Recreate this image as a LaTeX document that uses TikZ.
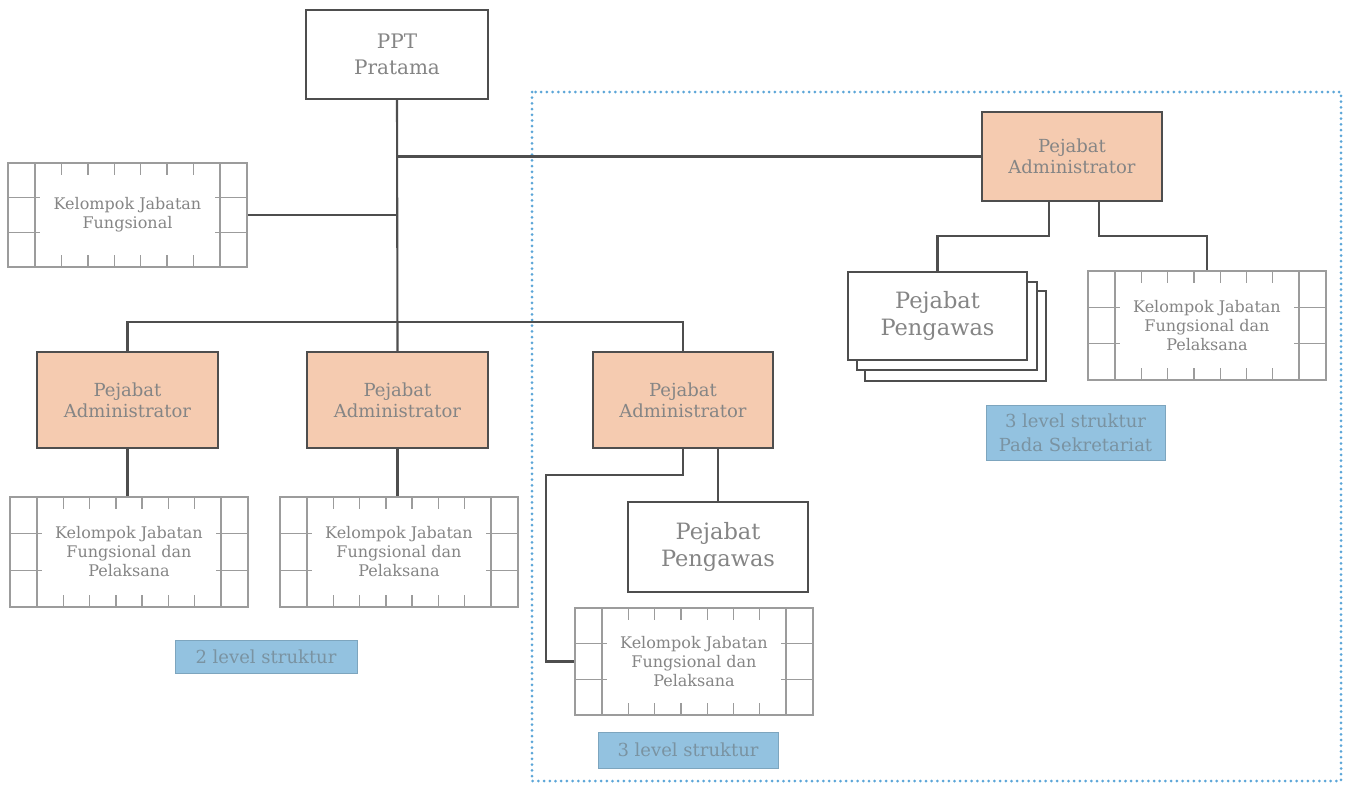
\documentclass[tikz,border=0pt]{standalone}
\usepackage{fontspec}
\setmainfont{DejaVu Serif}
\usetikzlibrary{calc}
\definecolor{peach}{HTML}{F5CBB0}
\definecolor{lblue}{HTML}{93C2E0}
\definecolor{dotblue}{HTML}{5CA6D8}
\definecolor{txt}{HTML}{858585}
\definecolor{lbltxt}{HTML}{7A93A2}
\definecolor{boxline}{HTML}{4E4E4E}
\definecolor{kline}{HTML}{9C9C9C}
\tikzset{
  conn/.style={draw=boxline, line width=2.1pt},
  basebox/.style={draw=boxline, line width=1.8pt, text=txt, align=center, inner sep=0pt},
  pptbox/.style={basebox, fill=white, font=\fontsize{20}{26}\selectfont},
  admbox/.style={basebox, fill=peach, font=\fontsize{18}{21}\selectfont},
  pengbox/.style={basebox, fill=white, font=\fontsize{22.5}{27}\selectfont},
  kjfbox/.style={draw=kline, line width=1.3pt, fill=white, text=txt, align=center, inner sep=0pt, font=\fontsize{16}{19}\selectfont},
  kjfline/.style={draw=kline, line width=1.3pt},
  lblbox/.style={fill=lblue, draw=lblue!85!black, line width=0.4pt, text=lbltxt, align=center, inner sep=0pt, font=\fontsize{18}{24}\selectfont},
  dotframe/.style={draw=dotblue, line width=3pt, line cap=round, dash pattern=on 0pt off 5.7pt},
}
% name, x1, y1, x2, y2, text
\newcommand\kjfnode[6]{%
  \node[kjfbox, minimum width={#4-#2}, minimum height={#5-#3}] (#1) at ({(#2+#4)/2},{(#3+#5)/2}) {#6};
  \draw[kjfline] (#2+27,#3) -- (#2+27,#5) (#4-27,#3) -- (#4-27,#5);
  \foreach \f in {1,2}{%
    \draw[kjfline] (#2,{#3+\f*(#5-#3)/3}) -- ++(32,0);
    \draw[kjfline] (#4,{#3+\f*(#5-#3)/3}) -- ++(-32,0);}
  \foreach \k in {1,...,6}{%
    \draw[kjfline] ({#2+27+\k*(#4-#2-54)/7},#3) -- ++(0,12);
    \draw[kjfline] ({#2+27+\k*(#4-#2-54)/7},#5) -- ++(0,-12);}
}
% name, x1, y1, x2, y2, style, text
\newcommand\bx[7]{%
  \node[#6, minimum width={#4-#2}, minimum height={#5-#3}] (#1) at ({(#2+#4)/2},{(#3+#5)/2}) {#7};}
\begin{document}
\begin{tikzpicture}[x=1pt,y=-1pt]
\useasboundingbox (0,0) rectangle (1354,785);
\fill[white] (0,0) rectangle (1354,785);
% dotted frame
\draw[dotframe] (532,92) rectangle (1341,781);

% boxes
\bx{ppt}{306}{10}{488}{99}{pptbox}{PPT\\Pratama}
\bx{adm1}{37}{352}{218}{448}{admbox}{Pejabat\\Administrator}
\bx{adm2}{307}{352}{488}{448}{admbox}{Pejabat\\Administrator}
\bx{adm3}{593}{352}{773}{448}{admbox}{Pejabat\\Administrator}
\bx{adm4}{982}{112}{1162}{201}{admbox}{Pejabat\\Administrator}
\bx{peng3}{628}{502}{808}{592}{pengbox}{Pejabat\\Pengawas}
% stacked Pengawas
\bx{pengc}{865}{291}{1046}{381}{pengbox}{}
\bx{pengb}{857}{282}{1037}{370}{pengbox}{}
\bx{peng4}{848}{272}{1027}{360}{pengbox}{Pejabat\\Pengawas}

\kjfnode{kjf0}{8}{163}{247}{267}{Kelompok Jabatan\\Fungsional}
\kjfnode{kjfA}{10}{497}{248}{607}{Kelompok Jabatan\\Fungsional dan\\Pelaksana}
\kjfnode{kjfB}{280}{497}{518}{607}{Kelompok Jabatan\\Fungsional dan\\Pelaksana}
\kjfnode{kjf3}{575}{608}{813}{715}{Kelompok Jabatan\\Fungsional dan\\Pelaksana}
\kjfnode{kjf4}{1088}{271}{1326}{380}{Kelompok Jabatan\\Fungsional dan\\Pelaksana}

% labels
\bx{lbl2}{175}{640}{357}{673}{lblbox}{2 level struktur}
\bx{lbl3}{598}{732}{778}{768}{lblbox}{3 level struktur}
\bx{lbl3s}{986}{405}{1165}{460}{lblbox}{3 level struktur\\Pada Sekretariat}

% connectors
\draw[conn] (ppt.south) -- (adm2.north);
\draw[conn] (kjf0.east) -- (kjf0.east -| ppt.south);
\draw[conn] (ppt.south |- adm4.west) -- (adm4.west);
\draw[conn] (adm1.north) -- ++(0,-29) -| (adm3.north);
\draw[conn] (adm1.south) -- (adm1.south |- kjfA.north);
\draw[conn] (adm2.south) -- (adm2.south |- kjfB.north);
\draw[conn] (adm3.south) -- ++(0,26) -| ([xshift=-28pt]kjf3.west) -- (kjf3.west);
\draw[conn] (adm3.south -| peng3.north) -- (peng3.north);
\draw[conn] ([xshift=-23pt]adm4.south) -- ++(0,34) -| (peng4.north);
\draw[conn] ([xshift=27pt]adm4.south) -- ++(0,34) -| (kjf4.north);
\end{tikzpicture}
\end{document}
